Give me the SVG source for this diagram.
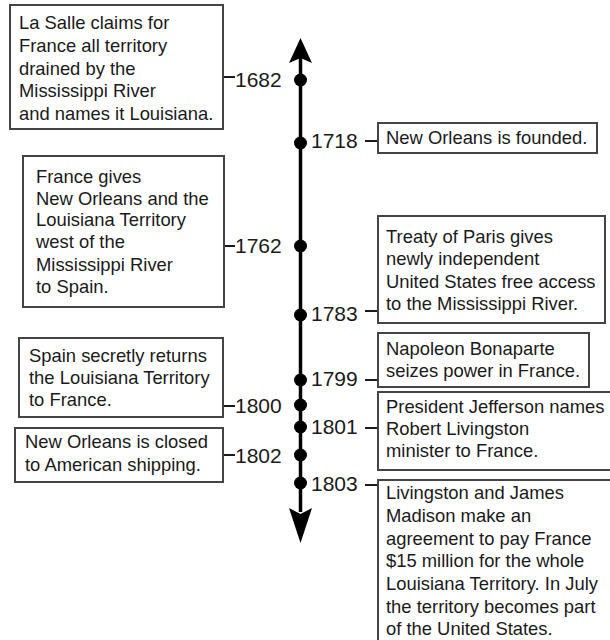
<svg xmlns="http://www.w3.org/2000/svg" width="610" height="640" viewBox="0 0 610 640">
<style>
.box{fill:#fff;stroke:#444;stroke-width:2}
.t{font-family:"Liberation Sans",Arial,sans-serif;font-size:18.4px;fill:#1a1a1a}
.yr{font-family:"Liberation Sans",Arial,sans-serif;font-size:21px;fill:#1a1a1a}
.tick{stroke:#1a1a1a;stroke-width:2}
.axis{stroke:#000;stroke-width:3.5}
.dot{fill:#000}
</style>
<rect width="610" height="640" fill="#fff"/>
<g id="connectors">
<line class="axis" x1="300.5" y1="58" x2="300.5" y2="512"/>
<polygon points="300.5,38 312,63 300.5,58 289,63" fill="#000"/>
<polygon points="300.5,543 312,508 300.5,514 289,508" fill="#000"/>
<line class="tick" x1="223" y1="77" x2="235" y2="77"/>
<line class="tick" x1="365" y1="141" x2="378" y2="141"/>
<line class="tick" x1="224" y1="246" x2="235" y2="246"/>
<line class="tick" x1="365" y1="311" x2="378" y2="311"/>
<line class="tick" x1="365" y1="380" x2="378" y2="380"/>
<line class="tick" x1="223" y1="406" x2="235" y2="406"/>
<line class="tick" x1="365" y1="428" x2="378" y2="428"/>
<line class="tick" x1="223" y1="455" x2="235" y2="455"/>
<line class="tick" x1="365" y1="485" x2="378" y2="485"/>
</g>
<g id="dots">
<circle class="dot" cx="300.5" cy="80" r="6.5"/>
<circle class="dot" cx="300.5" cy="143" r="6.5"/>
<circle class="dot" cx="300.5" cy="246" r="6.5"/>
<circle class="dot" cx="300.5" cy="315" r="6.5"/>
<circle class="dot" cx="300.5" cy="380" r="6.5"/>
<circle class="dot" cx="300.5" cy="405" r="6.5"/>
<circle class="dot" cx="300.5" cy="427" r="6.5"/>
<circle class="dot" cx="300.5" cy="455" r="6.5"/>
<circle class="dot" cx="300.5" cy="483" r="6.5"/>
</g>
<g id="n1682">
<rect class="box" x="10" y="5" width="213" height="124"/>
<text class="t" x="19" y="29">La Salle claims for</text>
<text class="t" x="19" y="52">France all territory</text>
<text class="t" x="19" y="75">drained by the</text>
<text class="t" x="19" y="97">Mississippi River</text>
<text class="t" x="19" y="120">and names it Louisiana.</text>
<text class="yr" x="235" y="87">1682</text>
</g>
<g id="n1718">
<rect class="box" x="378" y="123" width="219" height="30"/>
<text class="t" x="386" y="144">New Orleans is founded.</text>
<text class="yr" x="311" y="148">1718</text>
</g>
<g id="n1762">
<rect class="box" x="23" y="156" width="201" height="151"/>
<text class="t" x="36" y="183">France gives</text>
<text class="t" x="36" y="205">New Orleans and the</text>
<text class="t" x="36" y="226">Louisiana Territory</text>
<text class="t" x="36" y="248">west of the</text>
<text class="t" x="36" y="271">Mississippi River</text>
<text class="t" x="36" y="293">to Spain.</text>
<text class="yr" x="235" y="253">1762</text>
</g>
<g id="n1783">
<rect class="box" x="378" y="216" width="227" height="107"/>
<text class="t" x="386" y="243">Treaty of Paris gives</text>
<text class="t" x="386" y="265">newly independent</text>
<text class="t" x="386" y="288">United States free access</text>
<text class="t" x="386" y="310">to the Mississippi River.</text>
<text class="yr" x="311" y="321">1783</text>
</g>
<g id="n1799">
<rect class="box" x="378" y="333" width="211" height="54"/>
<text class="t" x="386" y="355">Napoleon Bonaparte</text>
<text class="t" x="386" y="377">seizes power in France.</text>
<text class="yr" x="311" y="386">1799</text>
</g>
<g id="n1800">
<rect class="box" x="19" y="338" width="204" height="79"/>
<text class="t" x="29" y="362">Spain secretly returns</text>
<text class="t" x="29" y="384">the Louisiana Territory</text>
<text class="t" x="29" y="406">to France.</text>
<text class="yr" x="235" y="413">1800</text>
</g>
<g id="n1801">
<rect class="box" x="378" y="392" width="240" height="78"/>
<text class="t" x="386" y="413">President Jefferson names</text>
<text class="t" x="386" y="435">Robert Livingston</text>
<text class="t" x="386" y="457">minister to France.</text>
<text class="yr" x="311" y="434">1801</text>
</g>
<g id="n1802">
<rect class="box" x="15" y="428" width="208" height="54"/>
<text class="t" x="25" y="448">New Orleans is closed</text>
<text class="t" x="25" y="471">to American shipping.</text>
<text class="yr" x="235" y="463">1802</text>
</g>
<g id="n1803">
<rect class="box" x="378" y="480" width="240" height="175"/>
<text class="t" x="386" y="499">Livingston and James</text>
<text class="t" x="386" y="522">Madison make an</text>
<text class="t" x="386" y="545">agreement to pay France</text>
<text class="t" x="386" y="567">$15 million for the whole</text>
<text class="t" x="386" y="590">Louisiana Territory. In July</text>
<text class="t" x="386" y="613">the territory becomes part</text>
<text class="t" x="386" y="635">of the United States.</text>
<text class="yr" x="311" y="491">1803</text>
</g>
</svg>
